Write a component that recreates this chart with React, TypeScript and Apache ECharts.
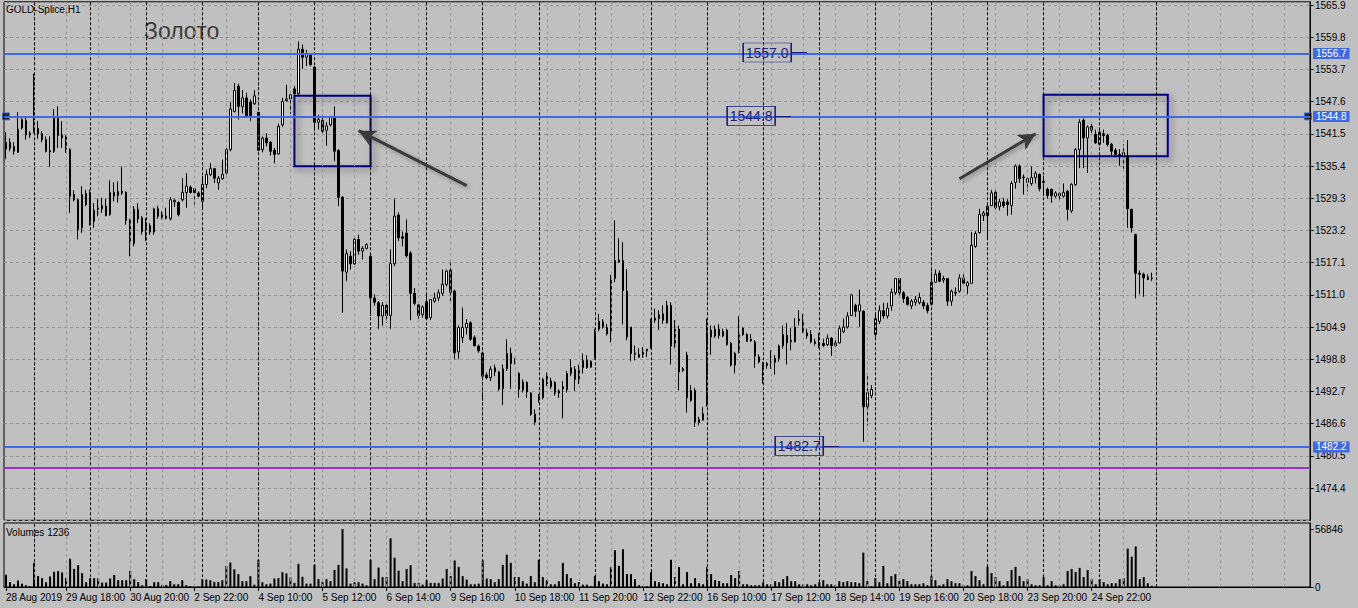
import React, { useEffect, useRef } from 'react';
import * as echarts from 'echarts';

// ---- time slots (H1 bars, 14 bars per trading day 10:00-23:00; first day starts 17:00) ----
const dayNames = ['28 Aug', '29 Aug', '30 Aug', '2 Sep', '3 Sep', '4 Sep', '5 Sep', '6 Sep', '9 Sep', '10 Sep',
  '11 Sep', '12 Sep', '13 Sep', '16 Sep', '17 Sep', '18 Sep', '19 Sep', '20 Sep', '23 Sep', '24 Sep', '25 Sep',
  '26 Sep', '27 Sep', '30 Sep'];
const SLOTS = 326;

// ---- tick labels of the time axis (bar index -> text) ----
const xTickBars = [0, 15, 31, 47, 63, 79, 95, 111, 127, 143, 159, 175, 191, 207, 223, 239, 255, 271];
const xTickLabels = ['28 Aug 2019', '29 Aug 18:00', '30 Aug 20:00', '2 Sep 22:00', '4 Sep 10:00', '5 Sep 12:00',
  '6 Sep 14:00', '9 Sep 16:00', '10 Sep 18:00', '11 Sep 20:00', '12 Sep 22:00', '16 Sep 10:00', '17 Sep 12:00',
  '18 Sep 14:00', '19 Sep 16:00', '20 Sep 18:00', '23 Sep 20:00', '24 Sep 22:00'];

// ---- OHLC (GOLD, H1) ----
const opens = [
1538.6,1539.9,1538.2,1538.0,1542.6,1544.0,1541.6,1541.9,1542.5,1541.5,1540.4,1538.3,1538.2,1544.5,1541.3,1540.9,1538.6,1530.0,1529.0,1523.7,
1530.2,1529.8,1524.9,1527.2,1527.3,1527.8,1526.2,1530.4,1529.8,1530.6,1530.4,1525.1,1520.7,1527.2,1525.6,1523.9,1524.1,1522.9,1527.3,1526.2,
1525.5,1525.4,1528.6,1528.5,1529.0,1530.4,1531.4,1531.1,1530.3,1528.7,1531.9,1533.8,1534.9,1532.2,1533.0,1534.1,1538.5,1545.7,1550.5,1546.7,
1548.3,1547.5,1547.2,1545.6,1538.5,1540.7,1539.9,1538.4,1537.7,1543.2,1547.8,1548.1,1550.0,1549.1,1557.5,1556.0,1556.5,1554.1,1543.7,1544.0,
1542.2,1543.2,1544.7,1538.4,1529.5,1515.3,1518.3,1516.9,1521.5,1519.3,1519.8,1518.3,1510.4,1509.5,1507.0,1509.0,1507.1,1516.9,1526.1,1522.0,
1522.7,1518.9,1511.3,1509.1,1507.3,1509.7,1506.7,1509.8,1510.4,1511.3,1513.0,1515.7,1511.7,1500.2,1502.9,1504.8,1505.7,1502.9,1501.3,1500.0,
1495.8,1495.3,1496.4,1496.4,1493.2,1497.0,1499.9,1498.2,1496.1,1493.0,1494.4,1492.4,1488.4,1491.3,1491.5,1495.9,1493.6,1494.4,1492.4,1493.6,
1493.0,1496.1,1496.9,1495.0,1497.2,1498.6,1497.3,1498.9,1504.5,1505.9,1504.8,1503.8,1514.1,1517.6,1517.5,1511.7,1504.9,1499.7,1499.7,1499.7,
1500.7,1500.9,1506.2,1506.5,1507.4,1505.7,1509.0,1501.3,1504.5,1497.0,1499.6,1491.0,1492.9,1486.8,1487.3,1490.0,1504.3,1503.2,1504.5,1503.2,
1504.3,1501.8,1497.7,1500.1,1504.7,1503.5,1502.6,1502.1,1499.2,1497.4,1497.6,1498.0,1498.2,1499.0,1501.3,1503.3,1502.1,1502.1,1506.4,1506.2,
1503.8,1503.5,1502.1,1501.3,1501.8,1501.6,1502.8,1501.4,1501.9,1504.0,1504.9,1507.1,1509.0,1507.9,1507.9,1489.8,1491.9,1503.5,1506.0,1508.0,
1507.0,1508.9,1511.4,1514.1,1511.4,1510.5,1508.9,1509.6,1509.5,1509.6,1509.0,1509.2,1513.4,1515.1,1513.8,1514.1,1509.8,1511.3,1511.7,1514.2,
1512.7,1513.2,1520.2,1522.8,1526.0,1526.0,1527.9,1530.4,1527.7,1528.6,1528.6,1527.9,1532.3,1535.4,1533.3,1532.3,1532.1,1533.2,1533.8,1532.5,
1531.0,1531.0,1529.7,1530.2,1529.7,1530.6,1526.9,1531.9,1538.5,1544.1,1540.7,1542.9,1541.4,1539.5,1541.5,1541.2,1539.5,1538.4,1537.6,1537.3,
1537.3,1527.2,1522.4,1515.1,1514.9,1514.4,1514.2];
const highs = [
1541.8,1540.7,1539.9,1545.6,1544.8,1544.5,1542.0,1552.9,1543.9,1542.0,1541.0,1541.0,1546.2,1546.7,1543.9,1541.2,1538.7,1530.8,1529.2,1531.6,
1530.9,1530.9,1528.4,1529.2,1529.4,1529.2,1532.7,1532.3,1532.5,1535.3,1530.6,1525.4,1527.8,1528.4,1525.9,1525.6,1524.6,1527.5,1527.9,1526.8,
1527.5,1529.5,1529.2,1528.7,1533.1,1534.1,1531.7,1531.1,1530.6,1533.5,1534.7,1536.0,1535.0,1533.5,1536.6,1538.8,1547.6,1551.1,1551.0,1549.8,
1549.3,1548.0,1549.8,1545.7,1541.0,1541.6,1540.1,1538.8,1543.4,1548.3,1550.8,1549.5,1550.6,1559.0,1558.4,1557.4,1556.8,1554.3,1545.1,1545.1,
1543.7,1544.9,1546.7,1538.5,1529.7,1519.6,1519.3,1522.1,1522.4,1520.2,1520.8,1518.6,1511.1,1509.8,1509.6,1509.5,1519.6,1529.2,1526.6,1523.0,
1525.3,1519.3,1512.3,1509.5,1509.0,1511.4,1510.2,1511.4,1512.0,1515.8,1515.8,1517.1,1512.0,1505.2,1508.6,1506.4,1506.0,1503.3,1501.6,1500.4,
1496.3,1497.5,1497.8,1496.6,1497.8,1502.6,1501.0,1499.1,1496.4,1495.0,1494.7,1492.6,1489.3,1492.2,1495.3,1496.3,1495.3,1494.7,1493.1,1494.7,
1496.6,1498.8,1497.5,1497.8,1499.9,1499.6,1498.6,1504.6,1507.4,1506.4,1505.5,1514.8,1525.1,1521.7,1521.0,1515.9,1504.9,1501.4,1500.9,1501.1,
1500.7,1506.5,1508.4,1508.1,1509.0,1509.9,1509.6,1506.2,1505.2,1497.3,1500.2,1493.9,1493.4,1487.9,1489.8,1506.5,1505.2,1505.2,1505.5,1504.6,
1504.6,1502.1,1500.2,1507.0,1504.9,1503.8,1503.6,1502.4,1499.7,1498.3,1498.3,1500.5,1499.6,1501.6,1505.2,1505.7,1504.7,1506.6,1508.1,1507.4,
1504.6,1504.3,1502.7,1503.8,1502.7,1503.5,1503.0,1502.4,1505.2,1506.5,1507.7,1511.2,1509.3,1512.0,1508.1,1496.1,1493.9,1507.5,1509.0,1509.5,
1509.5,1512.2,1514.2,1514.2,1511.7,1510.8,1510.2,1510.8,1511.4,1510.0,1509.5,1516.1,1515.8,1515.7,1514.6,1514.2,1512.0,1512.4,1514.9,1514.9,
1513.6,1522.9,1523.1,1527.3,1526.9,1528.4,1530.9,1530.8,1529.2,1529.4,1529.1,1532.5,1535.7,1535.7,1533.8,1533.5,1535.4,1534.4,1534.0,1533.5,
1531.3,1531.1,1530.6,1530.4,1532.1,1530.9,1532.2,1538.8,1544.3,1544.7,1543.1,1543.6,1542.3,1542.4,1542.3,1541.5,1539.8,1538.8,1538.6,1539.5,
1540.3,1527.3,1522.6,1515.7,1515.2,1514.9,1515.2];
const lows = [
1536.7,1538.2,1537.5,1537.9,1542.3,1540.4,1540.7,1541.6,1540.5,1539.9,1538.0,1535.2,1537.9,1538.8,1538.8,1537.9,1526.5,1528.7,1521.5,1522.7,
1527.8,1524.1,1523.7,1525.9,1526.5,1525.9,1526.0,1528.7,1528.4,1529.9,1524.3,1518.3,1520.2,1524.6,1522.4,1521.2,1522.4,1522.4,1525.4,1525.3,
1525.3,1525.1,1527.7,1525.9,1528.7,1527.5,1530.2,1528.1,1529.5,1527.2,1531.2,1533.5,1532.2,1530.9,1532.8,1533.8,1538.2,1545.6,1544.2,1545.4,
1544.8,1543.9,1547.0,1538.2,1538.0,1539.1,1537.4,1535.9,1537.5,1542.8,1547.6,1545.3,1548.7,1548.9,1553.8,1554.3,1554.3,1542.0,1542.3,1541.6,
1539.2,1542.9,1536.3,1527.8,1507.6,1513.6,1515.8,1516.7,1518.6,1517.7,1519.6,1507.0,1508.9,1504.5,1505.1,1505.7,1504.5,1516.4,1521.2,1520.2,
1518.0,1506.2,1509.0,1506.5,1506.7,1506.3,1506.2,1509.5,1509.8,1510.8,1512.6,1509.8,1498.8,1498.8,1501.9,1503.5,1502.3,1501.2,1500.0,1490.9,
1495.0,1494.7,1495.6,1492.8,1490.1,1496.6,1493.2,1497.8,1491.5,1492.5,1491.5,1488.1,1486.3,1490.6,1491.2,1493.7,1493.1,1491.9,1491.5,1487.6,
1492.5,1495.6,1492.8,1494.1,1496.1,1497.0,1497.2,1498.8,1504.1,1504.6,1503.3,1502.0,1513.4,1517.1,1505.4,1502.4,1498.4,1498.6,1499.1,1499.1,
1499.2,1500.8,1505.7,1504.3,1505.5,1505.5,1497.8,1500.9,1492.9,1496.4,1488.7,1490.7,1486.0,1486.3,1487.1,1489.8,1499.6,1502.8,1502.7,1503.0,
1501.3,1497.4,1496.1,1499.9,1503.2,1502.1,1502.1,1497.2,1498.0,1494.2,1497.0,1497.0,1495.9,1498.3,1500.8,1497.8,1500.5,1502.0,1505.2,1503.8,
1502.7,1501.8,1501.4,1500.9,1501.1,1501.3,1499.4,1501.1,1501.8,1503.8,1504.6,1507.0,1506.8,1504.9,1483.2,1486.2,1491.4,1503.0,1505.5,1506.5,
1506.5,1508.0,1511.0,1510.8,1509.5,1508.9,1508.3,1508.9,1509.2,1508.3,1507.5,1508.9,1513.3,1513.4,1513.3,1508.9,1508.9,1510.8,1511.4,1512.8,
1511.1,1513.0,1519.9,1522.6,1525.0,1521.5,1527.8,1527.2,1527.0,1527.5,1526.0,1526.2,1531.1,1532.2,1530.0,1530.6,1531.7,1532.1,1530.6,1529.7,
1529.2,1528.4,1529.4,1528.6,1529.4,1525.1,1526.5,1531.6,1535.0,1535.0,1534.1,1541.7,1539.6,1539.3,1539.8,1539.1,1537.4,1537.3,1535.4,1534.9,
1523.7,1522.8,1510.3,1511.1,1510.6,1513.8,1513.6];
const closes = [
1539.9,1538.7,1539.1,1542.4,1544.2,1541.3,1541.3,1542.4,1541.5,1540.4,1538.2,1538.1,1544.5,1541.2,1540.7,1538.6,1529.7,1529.0,1523.4,1530.0,
1528.1,1524.9,1527.0,1527.7,1527.9,1526.0,1530.4,1529.7,1530.6,1530.3,1525.1,1520.7,1527.2,1525.4,1523.0,1524.5,1522.9,1527.3,1525.9,1525.6,
1525.9,1529.0,1528.9,1526.2,1530.4,1531.6,1530.4,1530.4,1529.7,1531.9,1533.8,1534.9,1533.1,1533.1,1533.8,1538.5,1546.2,1549.7,1546.7,1548.3,
1544.9,1544.9,1548.7,1538.4,1540.7,1539.8,1538.2,1537.6,1542.9,1547.6,1548.1,1548.9,1549.1,1557.5,1556.0,1556.6,1554.6,1543.7,1544.2,1542.0,
1543.0,1544.7,1538.2,1529.5,1515.5,1518.8,1516.9,1521.5,1519.3,1519.8,1520.5,1510.4,1509.6,1507.0,1509.0,1507.1,1516.9,1525.9,1521.8,1521.7,
1518.4,1511.3,1509.4,1507.1,1508.7,1506.5,1510.1,1510.4,1511.4,1513.0,1515.5,1511.5,1500.0,1504.8,1504.8,1505.6,1502.6,1501.4,1500.4,1495.6,
1495.3,1496.9,1497.2,1493.2,1497.0,1499.9,1498.0,1498.0,1493.1,1494.5,1492.6,1488.4,1486.9,1491.8,1495.0,1494.2,1494.7,1492.4,1492.8,1493.2,
1496.1,1497.2,1495.0,1497.0,1498.6,1497.2,1498.4,1504.1,1506.0,1504.9,1503.6,1514.1,1517.5,1517.2,1511.8,1503.0,1499.9,1500.0,1499.2,1500.5,
1500.4,1506.2,1506.6,1507.2,1506.2,1509.0,1501.3,1504.5,1496.4,1496.7,1491.5,1492.9,1486.9,1487.4,1488.5,1504.3,1503.0,1504.5,1503.3,1504.1,
1501.6,1497.7,1499.9,1503.5,1503.5,1502.2,1502.3,1499.4,1498.3,1497.8,1498.0,1498.3,1499.0,1501.3,1503.5,1501.9,1502.4,1504.9,1506.1,1504.0,
1503.2,1502.1,1501.8,1501.9,1501.4,1502.8,1501.4,1501.9,1504.6,1504.9,1507.0,1511.0,1507.9,1509.1,1489.8,1492.5,1493.1,1506.5,1508.0,1507.0,
1508.5,1511.5,1514.1,1511.4,1510.3,1509.2,1509.8,1510.1,1510.5,1508.9,1508.0,1513.4,1514.9,1513.6,1514.1,1509.8,1511.7,1511.5,1514.2,1513.2,
1513.3,1520.4,1522.6,1526.2,1526.5,1527.8,1530.3,1527.5,1528.6,1527.9,1528.1,1532.1,1535.4,1533.0,1533.2,1533.0,1533.2,1534.0,1531.1,1532.3,
1529.8,1529.8,1530.3,1529.8,1530.4,1527.2,1531.9,1538.5,1543.7,1540.7,1542.8,1542.2,1539.8,1541.8,1541.2,1539.5,1538.2,1537.6,1537.4,1538.0,
1527.3,1523.7,1515.1,1514.9,1514.2,1513.9,1514.1];

// ---- tick volumes ----
const volumes = [
12000,4700,2700,6300,3300,1700,1000,23700,10700,8700,4700,10300,15000,15700,14300,9000,27700,17700,21300,13700,
4700,8700,8700,8700,4300,4300,8300,11700,6700,6700,6700,15700,7700,4700,1700,7700,1000,4700,4700,2000,
2000,5700,2700,2700,6700,1700,800,600,500,7700,7300,6700,5000,5000,6700,20700,24000,17300,12700,5700,
5700,10700,2300,26700,4700,2700,3300,8300,8700,14700,13300,9300,4000,22700,10000,3300,3300,21700,7700,5000,
7700,5700,16700,21700,56846,18300,3300,4700,4700,3300,1700,26700,7700,19000,9700,9700,47700,28700,16000,5700,
17700,21300,4000,4000,2300,6700,4000,4000,4000,8300,17700,10700,26000,19700,10700,7300,2700,2700,3300,26000,
8300,7700,4700,7700,21700,31700,23700,9700,9700,5700,3300,10700,4700,26700,9700,6700,2700,2700,5700,23700,
12700,8700,3700,4700,2300,2300,700,10700,5700,3300,2700,19700,36000,20700,37000,12700,12700,7700,1700,700,
700,14700,5700,4700,3700,2700,26700,9700,19700,2700,14700,3700,8700,3700,2700,19700,12700,6700,5700,3700,
3700,11700,8700,15700,2700,2700,1700,1700,1700,4700,2700,2700,5700,4700,7700,10700,5700,5700,2700,2700,
2700,1700,2700,4700,6700,2700,2700,1700,5700,4700,5700,4700,4700,3700,33700,5700,700,8700,4700,20700,
3700,10700,12700,6000,7700,5700,2700,2700,2700,3700,1700,10700,6700,1700,2700,7700,5700,3700,3700,1700,
1700,15700,10700,6700,2700,20000,13700,9700,5700,1700,5700,16700,19700,10700,5700,7700,2700,1700,1700,9700,
1700,5700,1700,1700,2700,15700,17700,14700,18700,9700,16700,7700,2700,7700,4700,2700,3700,3700,7700,8700,
37700,29700,39700,7700,9700,3700,1236];

// ---- horizontal levels / annotations ----
const blueLevels = [1556.7, 1544.8, 1482.2];
const purpleLevel = 1478.2;
const priceNotes = [
  { text: '1557.0', bar: 190, price: 1556.9, lineFrom: 196, lineTo: 200 },
  { text: '1544.8', bar: 186, price: 1544.9, lineFrom: 192, lineTo: 196 },
  { text: '1482.7', bar: 198, price: 1482.4, lineFrom: 204, lineTo: 208 },
];
const boxes = [
  { from: 72, to: 91, top: 1548.7, bottom: 1535.35 },
  { from: 259, to: 290, top: 1548.9, bottom: 1537.25 },
];
const arrows = [
  { fromBar: 115, fromPrice: 1531.7, toBar: 88, toPrice: 1542.1 },
  { fromBar: 238, fromPrice: 1533.0, toBar: 257, toPrice: 1541.5 },
];

const priceMin = 1468.3;
const priceMax = 1566.5;
const priceTickBase = 1474.3;
const priceTickStep = 6.1;
const volMaxLabel = 56846;

const FONT = '"Liberation Sans", Arial, sans-serif';

function buildCategories(): string[] {
  const cats: string[] = [];
  dayNames.forEach((d, di) => {
    const start = di === 0 ? 17 : 10;
    for (let h = start; h <= 23; h++) cats.push(`${d} ${h < 10 ? '0' : ''}${h}:00`);
  });
  return cats.slice(0, SLOTS);
}

export default function App() {
  const ref = useRef<HTMLDivElement>(null);
  useEffect(() => {
    if (!ref.current) return;
    const chart = echarts.init(ref.current, undefined, { renderer: 'svg' });
    const categories = buildCategories();
    const tickMap = new Map<number, string>();
    xTickBars.forEach((b, i) => tickMap.set(b, xTickLabels[i]));
    const ohlc = opens.map((o, i) => [o, closes[i], lows[i], highs[i]]);

    const grayV: number[] = [];
    for (let i = 7; i < SLOTS; i += 8) grayV.push(i);
    const sepV: number[] = [];
    for (let i = 7; i <= opens.length; i += 14) sepV.push(i);

    const vLines = [
      ...grayV.map((i) => ({ xAxis: i, lineStyle: { color: '#969696', type: [3, 3] as any, width: 1 } })),
      ...sepV.map((i) => ({ xAxis: i, lineStyle: { color: '#000', type: [3, 2] as any, width: 1 } })),
    ];

    const option: any = {
      animation: false,
      backgroundColor: '#c0c0c0',
      textStyle: { fontFamily: FONT },
      grid: [
        { left: 4, right: 48, top: 1, height: 519.3, show: true, borderColor: '#000', borderWidth: 1, backgroundColor: 'transparent' },
        { left: 4, right: 48, top: 523, height: 64, show: true, borderColor: '#000', borderWidth: 1, backgroundColor: 'transparent' },
      ],
      xAxis: [
        { type: 'category', gridIndex: 0, data: categories, boundaryGap: true, axisLine: { show: false }, axisTick: { show: false }, axisLabel: { show: false }, splitLine: { show: false } },
        {
          type: 'category', gridIndex: 1, data: categories, boundaryGap: true,
          axisLine: { show: true, lineStyle: { color: '#000' } },
          axisTick: { show: true, alignWithLabel: true, length: 4, interval: (i: number) => tickMap.has(i), lineStyle: { color: '#000' } },
          axisLabel: { interval: (i: number) => tickMap.has(i), formatter: (_v: string, i: number) => tickMap.get(i) ?? '', align: 'left', fontSize: 10, color: '#000', margin: 5, fontFamily: FONT },
          splitLine: { show: false },
        },
      ],
      yAxis: [
        { type: 'value', gridIndex: 0, min: priceMin, max: priceMax, show: false, position: 'left' },
        {
          type: 'value', gridIndex: 0, position: 'right',
          min: priceMin - priceTickBase, max: priceMax - priceTickBase, interval: priceTickStep,
          axisLine: { show: true, lineStyle: { color: '#000' } },
          axisTick: { show: true, length: 4, lineStyle: { color: '#000' } },
          axisLabel: { showMinLabel: false, showMaxLabel: false, formatter: (v: number) => (v + priceTickBase).toFixed(1), fontSize: 10, color: '#000', margin: 5, fontFamily: FONT },
          splitLine: { show: true, lineStyle: { color: '#969696', type: [3, 3] } },
        },
        {
          type: 'value', gridIndex: 1, position: 'right', min: 0, max: volMaxLabel * 64 / 58, interval: volMaxLabel,
          axisLine: { show: true, lineStyle: { color: '#000' } },
          axisTick: { show: true, length: 4, lineStyle: { color: '#000' } },
          axisLabel: { showMaxLabel: false, fontSize: 10, color: '#000', margin: 5, fontFamily: FONT, formatter: (v: number) => String(Math.round(v)) },
          splitLine: { show: false },
        },
      ],
      series: [
        {
          type: 'line', xAxisIndex: 0, yAxisIndex: 0, data: [], z: 1, silent: true,
          markLine: { silent: true, symbol: ['none', 'none'], label: { show: false }, data: vLines },
        },
        {
          type: 'line', xAxisIndex: 1, yAxisIndex: 2, data: [], z: 1, silent: true,
          markLine: { silent: true, symbol: ['none', 'none'], label: { show: false }, data: vLines },
        },
        {
          type: 'candlestick', xAxisIndex: 0, yAxisIndex: 0, data: ohlc, barWidth: 2, z: 3,
          itemStyle: { color: '#ffffff', color0: '#000000', borderColor: '#000000', borderColor0: '#000000', borderWidth: 1 },
          markLine: {
            silent: true, symbol: ['none', 'none'], label: { show: false },
            data: [
              ...blueLevels.map((v) => ({
                yAxis: v, lineStyle: { color: '#4169e1', width: 2, type: 'solid' },
                label: { show: true, position: 'end', distance: 3, formatter: v.toFixed(1), color: '#ffffff', backgroundColor: '#4169e1', fontSize: 10, fontFamily: FONT, padding: [1, 3, 0, 3] },
              })),
              { yAxis: purpleLevel, lineStyle: { color: '#9932cc', width: 2, type: 'solid' }, label: { show: false } },
              ...priceNotes.map((n) => [
                { coord: [n.lineFrom, n.price], lineStyle: { color: '#1c1c7c', width: 1, type: 'solid' } },
                { coord: [n.lineTo, n.price] },
              ]),
              ...arrows.map((a) => [
                { coord: [a.fromBar, a.fromPrice], symbol: 'none', lineStyle: { color: '#3a3a3a', width: 3, type: 'solid', shadowBlur: 4, shadowColor: 'rgba(0,0,0,0.3)', shadowOffsetX: 2, shadowOffsetY: 2 } },
                { coord: [a.toBar, a.toPrice], symbol: 'arrow', symbolSize: [13, 17] },
              ]),
            ],
          },
          markPoint: {
            silent: true,
            data: priceNotes.map((n) => ({
              coord: [n.bar, n.price], name: n.text, symbol: 'rect', symbolSize: [48, 19],
              itemStyle: { color: 'rgba(0,0,0,0)', borderColor: '#1c1c7c', borderWidth: 1 },
              label: { show: true, position: 'inside', formatter: n.text, color: '#22227a', fontSize: 14, fontFamily: FONT },
            })),
          },
          markArea: {
            silent: true,
            itemStyle: { color: 'rgba(0,0,0,0)', borderColor: '#00007f', borderWidth: 2, shadowBlur: 6, shadowColor: 'rgba(0,0,0,0.45)', shadowOffsetX: 3, shadowOffsetY: 3 },
            data: boxes.map((b) => [{ coord: [b.from, b.top] }, { coord: [b.to, b.bottom] }]),
          },
        },
        {
          type: 'scatter', xAxisIndex: 0, yAxisIndex: 0, z: 4, silent: true,
          data: [[0, blueLevels[1]], [SLOTS - 1, blueLevels[1]]],
          symbol: 'rect', symbolSize: 7,
          itemStyle: { color: '#000', borderColor: '#4169e1', borderWidth: 1 },
        },
        {
          type: 'bar', xAxisIndex: 1, yAxisIndex: 2, data: volumes, barWidth: 2, z: 3,
          itemStyle: { color: '#000' },
        },
      ],
      graphic: [
        { type: 'text', left: 6, top: 4, style: { text: 'GOLD-Splice,H1', fill: '#000', font: `10px ${FONT}` } },
        { type: 'text', left: 144, top: 19, style: { text: 'Золото', fill: '#3c3c3c', font: `23px ${FONT}` } },
        { type: 'text', left: 6, top: 527, style: { text: 'Volumes 1236', fill: '#000', font: `10px ${FONT}` } },
      ],
    };
    chart.setOption(option);
    return () => chart.dispose();
  }, []);
  return <div ref={ref} style={{ position: 'fixed', left: 0, top: 0, width: 1358, height: 608 }} />;
}
